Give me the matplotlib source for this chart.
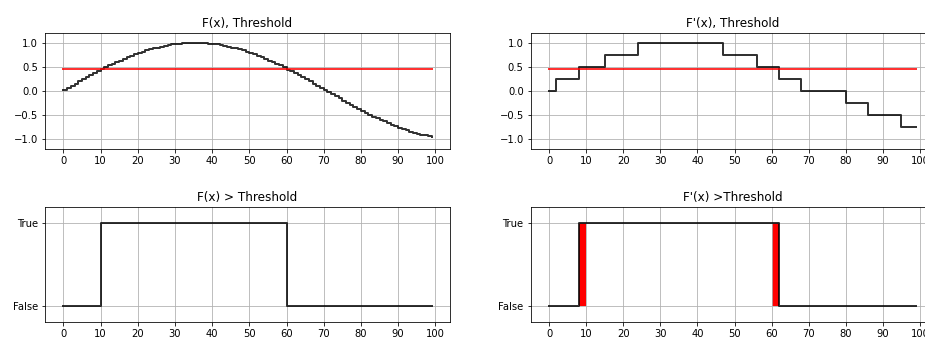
import numpy as np
import matplotlib
matplotlib.use("Agg")
import matplotlib.pyplot as plt

# 閾値
threshold = 0.45

# F(x) の値 (x = 0..99)
f_values = [0.02, 0.07, 0.11, 0.15, 0.20, 0.24, 0.28, 0.33, 0.37, 0.41,
            0.46, 0.49, 0.53, 0.56, 0.60, 0.63, 0.67, 0.70, 0.73, 0.76,
            0.79, 0.81, 0.84, 0.86, 0.88, 0.90, 0.92, 0.94, 0.95, 0.97,
            0.98, 0.98, 0.99, 1.00, 1.00, 1.00, 1.00, 1.00, 0.99, 0.98,
            0.98, 0.97, 0.95, 0.94, 0.92, 0.90, 0.88, 0.86, 0.84, 0.81,
            0.79, 0.76, 0.73, 0.70, 0.67, 0.63, 0.60, 0.56, 0.53, 0.49,
            0.44, 0.41, 0.37, 0.33, 0.28, 0.24, 0.20, 0.15, 0.11, 0.07,
            0.02, -0.02, -0.07, -0.11, -0.15, -0.20, -0.24, -0.28, -0.33, -0.37,
            -0.41, -0.45, -0.49, -0.53, -0.56, -0.60, -0.63, -0.67, -0.70, -0.73,
            -0.76, -0.79, -0.81, -0.84, -0.86, -0.88, -0.90, -0.92, -0.94, -0.95]

# F'(x) の値 (量子化された階段状)
fq_values = [0, 0, .25, .25, .25, .25, .25, .25, .5, .5,
             .5, .5, .5, .5, .5, .75, .75, .75, .75, .75,
             .75, .75, .75, .75, 1, 1, 1, 1, 1, 1,
             1, 1, 1, 1, 1, 1, 1, 1, 1, 1,
             1, 1, 1, 1, 1, 1, 1, .75, .75, .75,
             .75, .75, .75, .75, .75, .75, .5, .5, .5, .5,
             .5, .5, .25, .25, .25, .25, .25, .25, 0, 0,
             0, 0, 0, 0, 0, 0, 0, 0, 0, 0,
             -.25, -.25, -.25, -.25, -.25, -.25, -.5, -.5, -.5, -.5,
             -.5, -.5, -.5, -.5, -.5, -.75, -.75, -.75, -.75, -.75]

x = np.arange(len(f_values))
f = np.array(f_values)
fq = np.array(fq_values)
f_over = (f > threshold).astype(int)
fq_over = (fq > threshold).astype(int)

fig = plt.figure(figsize=(925 / 72, 340 / 72), dpi=72)
ax1 = fig.add_axes([45 / 925, 191 / 340, 405 / 925, 116 / 340])
ax2 = fig.add_axes([530.7 / 925, 191 / 340, 404 / 925, 116 / 340])
ax3 = fig.add_axes([45 / 925, 17.7 / 340, 405 / 925, 115.6 / 340])
ax4 = fig.add_axes([530.7 / 925, 17.7 / 340, 404 / 925, 115.6 / 340])

# 上段: 値と閾値
for ax, y, title in [(ax1, f, "F(x), Threshold"), (ax2, fq, "F'(x), Threshold")]:
    ax.step(x, y, where="post", color="k", lw=2, alpha=0.8)
    ax.plot(x, np.full(len(x), threshold), color="red", lw=2, alpha=0.8)
    ax.set_ylim(-1.2, 1.2)
    ax.set_title(title)
    ax.grid(True)
    ax.set_xticks(range(0, 101, 10))

# 下段: 閾値を超えたかどうか
ax3.step(x, f_over, where="post", color="k", lw=2, alpha=0.8)
ax3.set_title("F(x) > Threshold")

ax4.fill_between(x, f_over, fq_over, step="post", color="red", lw=0)
ax4.step(x, fq_over, where="post", color="k", lw=2, alpha=0.8)
ax4.set_title("F'(x) >Threshold")

for ax in [ax3, ax4]:
    ax.set_ylim(-0.2, 1.2)
    ax.set_yticks([0, 1])
    ax.set_yticklabels(["False", "True"])
    ax.grid(True)
    ax.set_xticks(range(0, 101, 10))

for ax in [ax1, ax2, ax3, ax4]:
    ax.set_xlim(-4.95, 103.95)

plt.savefig("out.png", dpi=72)
